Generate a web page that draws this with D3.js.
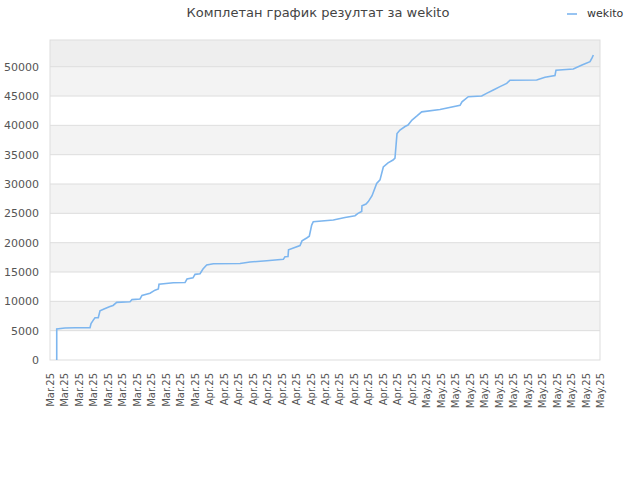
<!DOCTYPE html>
<html>
<head>
<meta charset="utf-8">
<script src="https://cdn.jsdelivr.net/npm/d3@7"></script>
<style>
  body { margin: 0; background: #fff; }
  text { font-family: "DejaVu Sans", sans-serif; }
</style>
</head>
<body>
<div id="chart"></div>
<script>
// days since 11 Mar 2025 and the running score of wekito
var days = [0.93, 0.93, 2.07, 3.46, 5.53, 5.67, 5.98, 6.22, 6.67, 6.91, 7.46, 8.29, 8.71, 9.22,
    11.06, 11.33, 12.44, 12.71, 13.82, 14.51, 14.97, 15.06, 17.04, 18.66, 18.93, 19.76, 20.04,
    20.73, 21.14, 21.65, 22.57, 26.26, 27.64, 29.94, 32.24, 32.47, 32.89, 32.96, 34.55, 34.82,
    35.47, 35.83, 36.16, 36.38, 39.15, 40.76, 42.15, 42.56, 43.07, 43.11, 43.67, 43.98, 44.50,
    45.14, 45.60, 46.06, 46.71, 47.40, 47.67, 47.95, 48.36, 49.06, 49.47, 50.02, 50.71, 51.36,
    53.89, 56.66, 56.93, 57.80, 59.65, 60.39, 61.26, 62.18, 63.11, 63.56, 67.25, 68.40, 69.78,
    69.92, 72.31, 73.51, 74.62, 74.90, 75.08];
var scores = [0, 5300, 5450, 5500, 5500, 6200, 6800, 7200, 7200, 8400, 8700, 9100, 9300, 9830,
    9940, 10300, 10400, 11000, 11370, 11900, 12100, 12900, 13180, 13200, 13800, 14000, 14600,
    14700, 15500, 16190, 16400, 16450, 16700, 16930, 17160, 17600, 17650, 18800, 19500, 20300,
    20800, 21100, 23000, 23580, 23860, 24300, 24600, 25000, 25300, 26300, 26600, 27000, 28000,
    30100, 30700, 32900, 33600, 34090, 34400, 38600, 39200, 39800, 40060, 40900, 41600, 42300,
    42700, 43400, 44000, 44880, 45000, 45500, 46020, 46600, 47160, 47700, 47730, 48200, 48500,
    49400, 49600, 50300, 50850, 51500, 51990];

// one label every second day
var tickDays = d3.range(0, 77, 2);
var tickLabels = [].concat(
    Array(11).fill("Mar.25"),
    Array(15).fill("Apr.25"),
    Array(13).fill("May.25"));
var yTicks = [0, 5000, 10000, 15000, 20000, 25000, 30000, 35000, 40000, 45000, 50000];

var svgWidth = 640;
var svgHeight = 480;
var margin = { top: 40, right: 40, bottom: 120, left: 50 };
var chartWidth = svgWidth - margin.left - margin.right;
var chartHeight = svgHeight - margin.top - margin.bottom;

var svg = d3.select("#chart")
    .append("svg")
    .attr("width", svgWidth)
    .attr("height", svgHeight);

var chartGroup = svg.append("g")
    .attr("transform", `translate(${margin.left}, ${margin.top})`);

var xScale = d3.scaleLinear()
    .domain([0, 76])
    .range([0, chartWidth]);

var yScale = d3.scaleLinear()
    .domain([0, 54550])
    .range([chartHeight, 0]);

// alternating bands
var bandEdges = yTicks.concat([yScale.domain()[1]]);
chartGroup.selectAll("rect.band")
    .data(d3.range(bandEdges.length - 1))
    .enter()
    .append("rect")
    .attr("class", "band")
    .attr("x", 0)
    .attr("width", chartWidth)
    .attr("y", i => yScale(bandEdges[i + 1]))
    .attr("height", i => yScale(bandEdges[i]) - yScale(bandEdges[i + 1]))
    .attr("fill", i => i == bandEdges.length - 2 ? "#eeeeee" : (i % 2 ? "#f3f3f3" : "#ffffff"));

chartGroup.selectAll("line.grid")
    .data(yTicks.slice(1))
    .enter()
    .append("line")
    .attr("class", "grid")
    .attr("x1", 0)
    .attr("x2", chartWidth)
    .attr("y1", d => yScale(d))
    .attr("y2", d => yScale(d))
    .attr("stroke", "#dddddd");

chartGroup.append("rect")
    .attr("width", chartWidth)
    .attr("height", chartHeight)
    .attr("fill", "none")
    .attr("stroke", "#dddddd");

var leftAxis = d3.axisLeft(yScale)
    .tickValues(yTicks)
    .tickSize(0)
    .tickPadding(11)
    .tickFormat(d3.format("d"));
var yAxis = chartGroup.append("g").call(leftAxis);
yAxis.select(".domain").remove();
yAxis.selectAll("text")
    .attr("font-size", "11px")
    .attr("font-family", "DejaVu Sans")
    .attr("fill", "#555");

var bottomAxis = d3.axisBottom(xScale)
    .tickValues(tickDays)
    .tickSize(0)
    .tickFormat((d, i) => tickLabels[i]);
var xAxis = chartGroup.append("g")
    .attr("transform", `translate(0, ${chartHeight})`)
    .call(bottomAxis);
xAxis.select(".domain").remove();
xAxis.selectAll("text")
    .attr("transform", "rotate(-90)")
    .attr("text-anchor", "end")
    .attr("x", -13)
    .attr("y", 0)
    .attr("dy", "0.35em")
    .attr("font-size", "10px")
    .attr("font-family", "DejaVu Sans")
    .attr("fill", "#555");

var line = d3.line()
    .x(i => xScale(days[i]))
    .y(i => yScale(scores[i]));

chartGroup.append("path")
    .datum(d3.range(days.length))
    .attr("d", line)
    .attr("fill", "none")
    .attr("stroke", "#7db6ef")
    .attr("stroke-width", 1.6);

svg.append("text")
    .attr("x", 318)
    .attr("y", 17)
    .attr("text-anchor", "middle")
    .attr("font-size", "13px")
    .attr("fill", "#444")
    .text("Комплетан график резултат за wekito");

svg.append("line")
    .attr("x1", 567)
    .attr("x2", 577)
    .attr("y1", 14)
    .attr("y2", 14)
    .attr("stroke", "#7db6ef")
    .attr("stroke-width", 1.6);

svg.append("text")
    .attr("x", 587)
    .attr("y", 17)
    .attr("font-size", "11px")
    .attr("fill", "#333")
    .text("wekito");
</script>
</body>
</html>
